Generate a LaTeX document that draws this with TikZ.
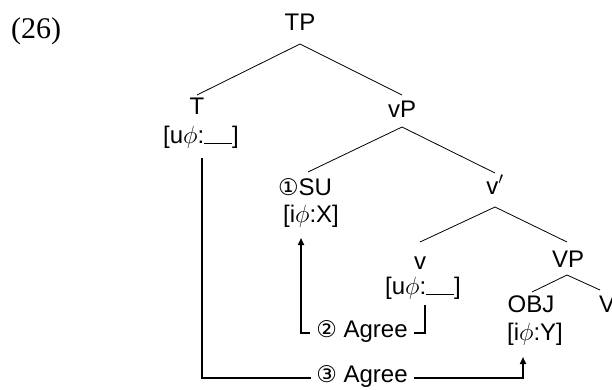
\documentclass[tikz,border=0pt]{standalone}
\usepackage{fontspec}
\setmainfont{Liberation Serif}
\newfontfamily\arialf{Liberation Sans}
\newfontfamily\circf{DejaVu Sans}
\usetikzlibrary{arrows.meta}
\newcommand{\blankln}{\rule[-1pt]{28pt}{1pt}}
\newcommand{\circd}[1]{{\circf\fontsize{23}{26}\selectfont #1}}
\begin{document}
\begin{tikzpicture}[x=1pt,y=-1pt,
  lab/.style={font=\arialf\fontsize{24}{28}\selectfont, inner sep=0pt, anchor=base},
  br/.style={line width=0.8pt},
  agr/.style={line width=1.6pt},
  arr/.style={agr,-{Triangle[length=7pt,width=6pt]}}]
\useasboundingbox (0,0) rectangle (612,389);
\node[anchor=base,inner sep=0pt,font=\fontsize{30}{34}\selectfont] (ex) at (36,38) {(26)};
\node[lab] (TP) at (300,30) {TP};
\node[lab] (T) at (197,114) {T};
\node[lab] (Tf) at (201,143) {[u$\phi$:\blankln]};
\node[lab] (vP) at (402,117) {vP};
\node[lab] (SU) at (305,195) {\circd{①}SU};
\node[lab] (SUf) at (311,222) {[i$\phi$:X]};
\node[lab] (vbar) at (495,194) {v$'$};
\node[lab] (v) at (420,269) {v};
\node[lab] (vf) at (423,294) {[u$\phi$:\blankln]};
\node[lab] (VP) at (568,267) {VP};
\node[lab] (OBJ) at (531,312) {OBJ};
\node[lab] (V) at (607,312) {V};
\node[lab] (OBJf) at (535,340) {[i$\phi$:Y]};
\node[lab] (ag2) at (362,337) {\circd{②} Agree};
\node[lab] (ag3) at (362,382) {\circd{③} Agree};
% tree branches
\draw[br] ([yshift=19pt]T.base) -- ([yshift=-14pt]TP.base) -- ([yshift=22pt]vP.base);
\draw[br] ([xshift=3pt,yshift=23pt]SU.base) -- ([yshift=-10pt]vP.base) -- ([yshift=21pt]vbar.base);
\draw[br] ([yshift=27pt]v.base) -- ([yshift=-13pt]vbar.base) -- ([xshift=-1pt,yshift=25pt]VP.base);
\draw[br] ([xshift=1pt,yshift=20pt]OBJ.base) -- ([xshift=-1pt,yshift=-8pt]VP.base) -- ([xshift=-7pt,yshift=22pt]V.base);
% agreement arrows
\draw[agr] ([xshift=2pt,yshift=-11pt]vf.base) |- ([xshift=6pt,yshift=4pt]ag2.base east);
\draw[arr] ([xshift=-6pt,yshift=4pt]ag2.base west) -| ([xshift=-10pt,yshift=-16pt]SUf.base);
\draw[agr] ([xshift=1pt,yshift=-15pt]Tf.base) |- ([xshift=-5pt,yshift=4pt]ag3.base west);
\draw[arr] ([xshift=6pt,yshift=4pt]ag3.base east) -| ([xshift=-12pt,yshift=-17pt]OBJf.base);
\end{tikzpicture}
\end{document}
